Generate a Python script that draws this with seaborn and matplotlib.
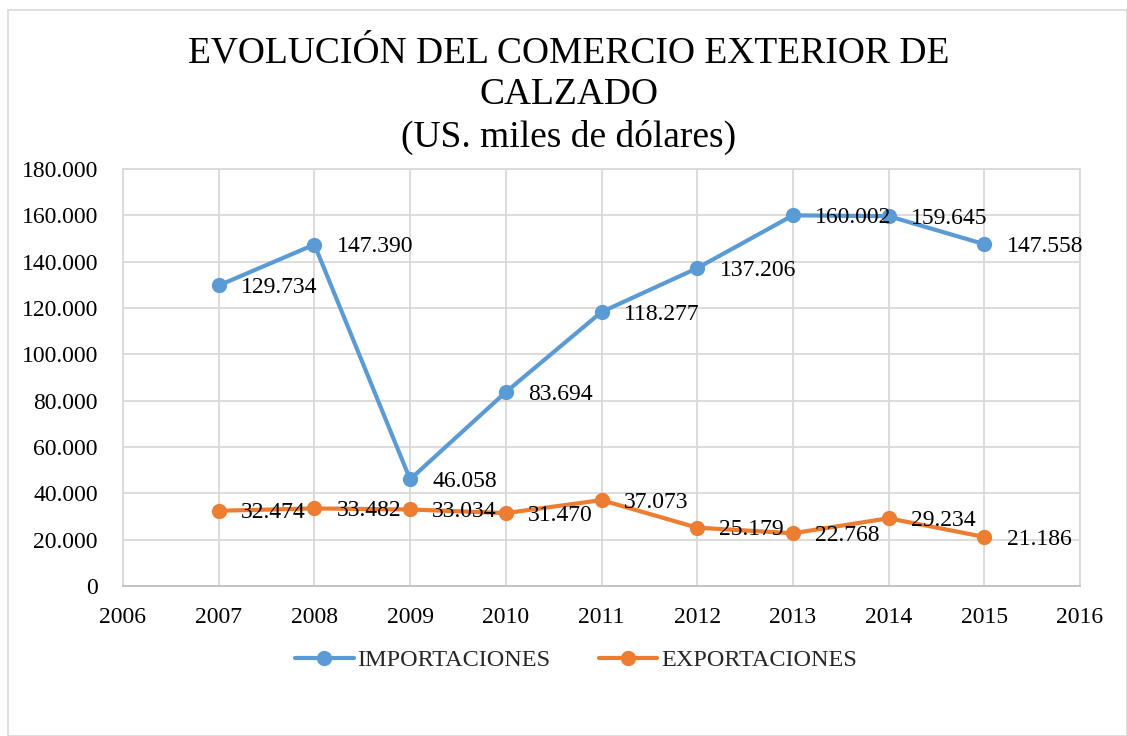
import matplotlib
matplotlib.use("Agg")
import matplotlib.pyplot as plt
import seaborn as sns
import pandas as pd
from matplotlib.patches import Rectangle
from matplotlib.ticker import FuncFormatter

years = [2007, 2008, 2009, 2010, 2011, 2012, 2013, 2014, 2015]
importaciones = [129734, 147390, 46058, 83694, 118277, 137206, 160002, 159645, 147558]
exportaciones = [32474, 33482, 33034, 31470, 37073, 25179, 22768, 29234, 21186]
series_names = ["IMPORTACIONES", "EXPORTACIONES"]
colors = ["#5B9BD5", "#ED7D31"]
title_lines = ["EVOLUCIÓN DEL COMERCIO EXTERIOR DE", "CALZADO", "(US. miles de dólares)"]
x_ticks = list(range(2006, 2017))
y_ticks = list(range(0, 180001, 20000))

sns.set_theme(style="white")
plt.rcParams['font.family'] = ['Liberation Serif', 'DejaVu Serif']

df = pd.DataFrame({
    "year": years * 2,
    "value": importaciones + exportaciones,
    "serie": [series_names[0]] * len(years) + [series_names[1]] * len(years),
})

fig = plt.figure(figsize=(11.27, 7.36), dpi=100)
ax = fig.add_axes([123/1127, 1 - 586/736, (1080-123)/1127, (586-169)/736])

sns.lineplot(data=df, x="year", y="value", hue="serie", palette=colors,
             marker="o", markersize=11, linewidth=3.0, markeredgewidth=0,
             ax=ax, legend=True)

ax.set_xlim(2006, 2016)
ax.set_ylim(0, 180000)
ax.set_xticks(x_ticks)
ax.set_yticks(y_ticks)
ax.yaxis.set_major_formatter(FuncFormatter(lambda v, p: f"{int(v):,}".replace(",", ".")))
ax.grid(True, color="#D9D9D9", linewidth=1.3)
ax.set_axisbelow(True)
for s in ["top", "right", "left"]:
    ax.spines[s].set_color("#D9D9D9")
    ax.spines[s].set_linewidth(1.3)
ax.spines["bottom"].set_color("#BFBFBF")
ax.spines["bottom"].set_linewidth(1.3)
ax.tick_params(axis="both", labelsize=17, colors="black", length=0)
ax.tick_params(axis="x", pad=15)
ax.tick_params(axis="y", pad=18)
ax.set_xlabel("")
ax.set_ylabel("")

for vals in (importaciones, exportaciones):
    for x, y in zip(years, vals):
        ax.annotate(f"{y:,}".replace(",", "."), (x, y), xytext=(16, -1.5),
                    textcoords="offset points", ha="left", va="center",
                    fontsize=17, color="black")

handles, labels = ax.get_legend_handles_labels()
leg = ax.legend(handles, labels, loc="center", bbox_to_anchor=(576/1127, 1 - 660/736),
                bbox_transform=fig.transFigure, ncol=2, frameon=False, fontsize=17.5,
                handlelength=2.4, handletextpad=0.15, columnspacing=2.0)

for t, yy in zip(title_lines, [53, 95, 137]):
    fig.text(569/1127, 1 - yy/736, t, ha="center", va="center", fontsize=27, color="black")

fig.patches.append(Rectangle((8/1127, 0), 1 - 8/1127 - 0.5/1127, 1 - 10/736,
                             transform=fig.transFigure, fill=False,
                             edgecolor="#D9D9D9", linewidth=1.2))

fig.savefig("out.png", dpi=100)
